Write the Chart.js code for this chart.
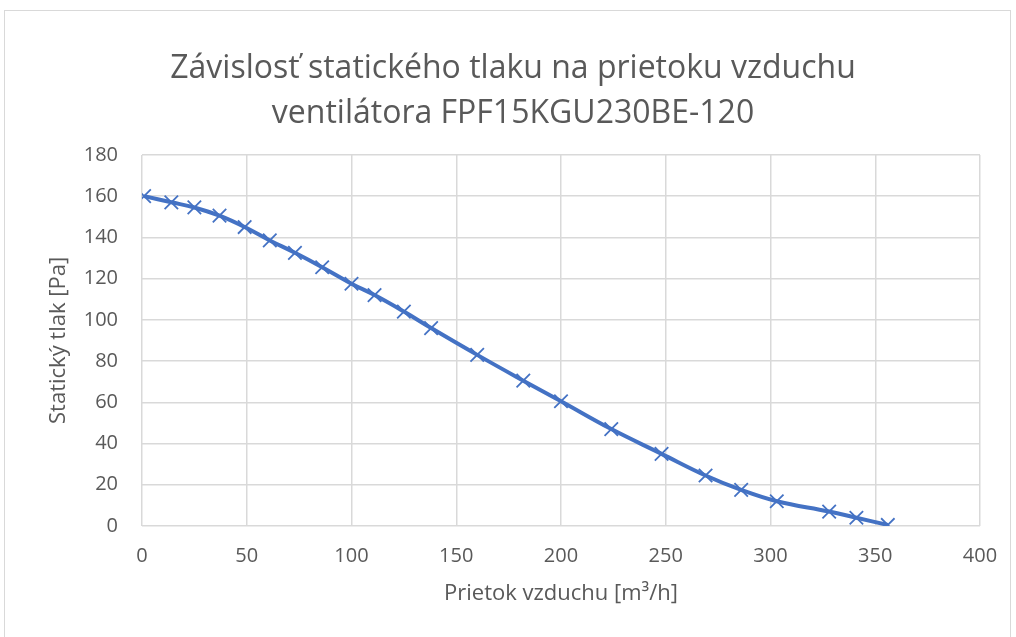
<!DOCTYPE html>
<html>
<head>
<meta charset="utf-8">
<script src="https://cdn.jsdelivr.net/npm/chart.js@4"></script>
<style>
  body { margin: 0; background: #fff; }
  #wrap { position: absolute; left: 4px; top: 10px; width: 1007px; height: 640px; border: 1px solid #d9d9d9; box-sizing: border-box; }
  #box { position: absolute; left: 0; top: 0; width: 1016px; height: 637px; }
</style>
</head>
<body>
<div id="wrap"></div>
<div id="box"><canvas id="fanChart"></canvas></div>
<script>
// Prietok vzduchu [m3/h] vs. statický tlak [Pa]
const flow = [1, 14, 25, 37, 49, 61, 73, 86, 100, 111, 125, 138, 160, 182, 200, 224, 248, 269, 286, 303, 328, 341, 356];
const pressure = [160, 157, 154.5, 150.5, 145, 138.5, 132.5, 125.5, 117.5, 112, 104, 96, 83, 70.5, 60.5, 47, 35, 24.5, 17.5, 12, 7, 4, 0.5];
const titleLines = ["Závislosť statického tlaku na prietoku vzduchu", "ventilátora FPF15KGU230BE-120"];

const grey = "#595959";
const font = "'Open Sans', 'Liberation Sans', sans-serif";

new Chart(document.getElementById("fanChart"), {
  type: 'scatter',
  data: {
    datasets: [{
      label: "Statický tlak",
      data: flow.map((x, i) => ({ x: x, y: pressure[i] })),
      showLine: true,
      borderColor: "#4472C4",
      backgroundColor: "#4472C4",
      borderWidth: 4,
      tension: 0.4,
      pointStyle: 'crossRot',
      pointRadius: 9.5,
      pointBorderWidth: 1.8,
      pointBorderColor: "#4472C4"
    }]
  },
  options: {
    responsive: true,
    maintainAspectRatio: false,
    animation: false,
    layout: { padding: { left: 46, right: 36, top: 46, bottom: 30 } },
    plugins: {
      legend: { display: false },
      tooltip: { enabled: false },
      title: {
        display: true,
        text: titleLines,
        color: grey,
        font: { family: font, size: 32, weight: 'normal', lineHeight: 1.42 },
        padding: { top: 0, bottom: 18 }
      }
    },
    scales: {
      x: {
        type: 'linear',
        min: 0,
        max: 400,
        afterFit: (scale) => { scale.height = 81; },
        ticks: { stepSize: 50, color: grey, font: { family: font, size: 20 }, padding: 18 },
        grid: { color: "#d9d9d9", lineWidth: 1.5, drawTicks: false },
        border: { display: false },
        title: {
          display: true,
          text: "Prietok vzduchu [m³/h]",
          color: grey,
          font: { family: font, size: 22 },
          padding: { top: 0, bottom: 0 }
        }
      },
      y: {
        min: 0,
        max: 180,
        afterFit: (scale) => { scale.width = 96; },
        ticks: { stepSize: 20, color: grey, font: { family: font, size: 20 }, padding: 24 },
        grid: { color: "#d9d9d9", lineWidth: 1.5, drawTicks: false },
        border: { display: false },
        title: {
          display: true,
          text: "Statický tlak [Pa]",
          color: grey,
          font: { family: font, size: 22 },
          padding: { top: 0, bottom: 0 }
        }
      }
    }
  }
});
</script>
</body>
</html>
